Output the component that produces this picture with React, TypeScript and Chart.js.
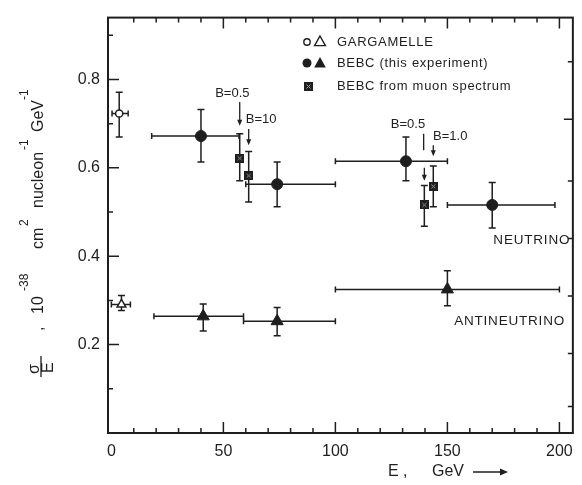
import { useEffect, useRef } from "react";
import { Chart, registerables } from "chart.js";

Chart.register(...registerables);

const INK = "#1e1e1e";
const FONT = '"Liberation Sans", Arial, sans-serif';

// Axis tick labels
const xTickValues = [0, 50, 100, 150, 200];
const yTickValues = [0.2, 0.4, 0.6, 0.8];
// Ticks of the right-hand frame edge (value units of the left axis)
const rightTickValues = [0.06, 0.18, 0.31, 0.44, 0.57, 0.71, 0.84];
const rightMajorTick = 0.71;

// Neutrino, BEBC (this experiment)
const nuE = [40, 74, 131.5, 170];
const nuSigma = [0.672, 0.563, 0.615, 0.516];
const nuELow = [18, 60, 100, 150];
const nuEHigh = [57, 100, 150, 198];
const nuSigmaLow = [0.613, 0.512, 0.571, 0.464];
const nuSigmaHigh = [0.732, 0.613, 0.67, 0.567];

// Antineutrino, BEBC (this experiment)
const anuE = [41, 74, 150];
const anuSigma = [0.264, 0.253, 0.325];
const anuELow = [19, 59, 100];
const anuEHigh = [59, 100, 200];
const anuSigmaLow = [0.231, 0.22, 0.288];
const anuSigmaHigh = [0.292, 0.284, 0.367];

// Gargamelle neutrino / antineutrino
const ggNuE = [3.5];
const ggNuSigma = [0.723];
const ggNuELow = [0.3];
const ggNuEHigh = [7.5];
const ggNuSigmaLow = [0.67];
const ggNuSigmaHigh = [0.771];

const ggAnuE = [4.5];
const ggAnuSigma = [0.291];
const ggAnuELow = [0];
const ggAnuEHigh = [8.5];
const ggAnuSigmaLow = [0.277];
const ggAnuSigmaHigh = [0.311];

// BEBC from muon spectrum (B = 0.5 and B = 1.0 at two energies)
const muE = [57.3, 61.3, 139.7, 143.7];
const muSigma = [0.622, 0.582, 0.516, 0.558];
const muSigmaLow = [0.571, 0.523, 0.468, 0.512];
const muSigmaHigh = [0.677, 0.637, 0.56, 0.604];

type Pt = { x: number; y: number; xMin?: number; xMax?: number; yMin: number; yMax: number };

function points(
  e: number[],
  s: number[],
  sLo: number[],
  sHi: number[],
  eLo?: number[],
  eHi?: number[]
): Pt[] {
  return e.map((x, i) => ({
    x,
    y: s[i],
    xMin: eLo ? eLo[i] : undefined,
    xMax: eHi ? eHi[i] : undefined,
    yMin: sLo[i],
    yMax: sHi[i],
  }));
}

function boxedCross(): HTMLCanvasElement {
  const c = document.createElement("canvas");
  c.width = 9;
  c.height = 9;
  const g = c.getContext("2d")!;
  g.fillStyle = INK;
  g.fillRect(0, 0, 9, 9);
  g.strokeStyle = "#9a9a9a";
  g.lineWidth = 1;
  g.beginPath();
  g.moveTo(2.5, 2.5);
  g.lineTo(6.5, 6.5);
  g.moveTo(6.5, 2.5);
  g.lineTo(2.5, 6.5);
  g.stroke();
  return c;
}

const errorBars = {
  id: "errorBars",
  beforeDatasetsDraw(chart: any) {
    const { ctx } = chart;
    const xs = chart.scales.x;
    const ys = chart.scales.y;
    ctx.save();
    ctx.strokeStyle = INK;
    ctx.lineWidth = 1.5;
    chart.data.datasets.forEach((ds: any) => {
      ds.data.forEach((p: Pt) => {
        const px = xs.getPixelForValue(p.x);
        const py = ys.getPixelForValue(p.y);
        const t = ys.getPixelForValue(p.yMax);
        const b = ys.getPixelForValue(p.yMin);
        ctx.beginPath();
        ctx.moveTo(px, t);
        ctx.lineTo(px, b);
        ctx.moveTo(px - 3.5, t);
        ctx.lineTo(px + 3.5, t);
        ctx.moveTo(px - 3.5, b);
        ctx.lineTo(px + 3.5, b);
        if (p.xMin !== undefined && p.xMax !== undefined) {
          const l = xs.getPixelForValue(p.xMin);
          const r = xs.getPixelForValue(p.xMax);
          ctx.moveTo(l, py);
          ctx.lineTo(r, py);
          ctx.moveTo(l, py - 3);
          ctx.lineTo(l, py + 3);
          ctx.moveTo(r, py - 3);
          ctx.lineTo(r, py + 3);
        }
        ctx.stroke();
      });
    });
    ctx.restore();
  },
};

function arrowDown(ctx: CanvasRenderingContext2D, x: number, y0: number, y1: number) {
  ctx.beginPath();
  ctx.moveTo(x, y0);
  ctx.lineTo(x, y1 - 5);
  ctx.stroke();
  ctx.beginPath();
  ctx.moveTo(x - 2.5, y1 - 6);
  ctx.lineTo(x + 2.5, y1 - 6);
  ctx.lineTo(x, y1);
  ctx.closePath();
  ctx.fill();
}

function tri(ctx: CanvasRenderingContext2D, x: number, y: number, r: number, filled: boolean) {
  ctx.beginPath();
  ctx.moveTo(x, y - r);
  ctx.lineTo(x + r * 0.9, y + r * 0.6);
  ctx.lineTo(x - r * 0.9, y + r * 0.6);
  ctx.closePath();
  if (filled) ctx.fill();
  else ctx.stroke();
}

const frameAndNotes = {
  id: "frameAndNotes",
  afterDraw(chart: any) {
    const { ctx, chartArea: a } = chart;
    const xs = chart.scales.x;
    const ys = chart.scales.y;
    const X = (v: number) => xs.getPixelForValue(v);
    const Y = (v: number) => ys.getPixelForValue(v);
    ctx.save();
    ctx.strokeStyle = INK;
    ctx.fillStyle = INK;

    // frame
    ctx.lineWidth = 2;
    ctx.strokeRect(a.left, a.top, a.right - a.left, a.bottom - a.top);

    // inward ticks
    ctx.lineWidth = 1.5;
    ctx.beginPath();
    for (let e = 10; e <= 200; e += 10) {
      const len = e % 50 === 0 ? 11 : 5;
      const px = X(e);
      ctx.moveTo(px, a.bottom);
      ctx.lineTo(px, a.bottom - len);
      ctx.moveTo(px, a.top);
      ctx.lineTo(px, a.top + len);
    }
    for (let k = 1; k <= 9; k++) {
      const v = k / 10;
      const len = k % 2 === 0 ? 11 : 5;
      const py = Y(v);
      ctx.moveTo(a.left, py);
      ctx.lineTo(a.left + len, py);
    }
    rightTickValues.forEach((v) => {
      const len = v === rightMajorTick ? 9 : 5;
      ctx.moveTo(a.right, Y(v));
      ctx.lineTo(a.right - len, Y(v));
    });
    ctx.stroke();

    // legend
    ctx.font = `13px ${FONT}`;
    (ctx as any).letterSpacing = "0.7px";
    ctx.textBaseline = "middle";
    ctx.textAlign = "left";
    ctx.lineWidth = 1.4;
    ctx.beginPath();
    ctx.arc(307, 42, 3.2, 0, Math.PI * 2);
    ctx.stroke();
    tri(ctx, 320, 42, 6, false);
    ctx.fillText("GARGAMELLE", 337, 42);
    ctx.beginPath();
    ctx.arc(307, 63, 4.5, 0, Math.PI * 2);
    ctx.fill();
    tri(ctx, 320, 63.5, 6.5, true);
    ctx.fillText("BEBC (this experiment)", 337, 63);
    ctx.drawImage(muonMark, 304, 82);
    ctx.fillText("BEBC from muon spectrum", 337, 86);

    // series names
    ctx.font = `13.5px ${FONT}`;
    (ctx as any).letterSpacing = "0.8px";
    ctx.fillText("NEUTRINO", X(170.5), Y(0.435));
    ctx.fillText("ANTINEUTRINO", X(153), Y(0.253));

    // branching-ratio annotations
    ctx.font = `13px ${FONT}`;
    (ctx as any).letterSpacing = "0px";
    ctx.lineWidth = 1.3;
    ctx.textAlign = "center";
    ctx.fillText("B=0.5", X(54), Y(0.769));
    arrowDown(ctx, X(57.3), Y(0.749), Y(0.695));
    ctx.textAlign = "left";
    ctx.fillText("B=10", X(60), Y(0.71));
    arrowDown(ctx, X(61.3), Y(0.688), Y(0.651));
    ctx.textAlign = "center";
    ctx.fillText("B=0.5", X(132.4), Y(0.699));
    ctx.beginPath();
    ctx.moveTo(X(139.4), Y(0.677));
    ctx.lineTo(X(139.4), Y(0.64));
    ctx.stroke();
    arrowDown(ctx, X(139.7), Y(0.6), Y(0.571));
    ctx.textAlign = "left";
    ctx.fillText("B=1.0", X(143.6), Y(0.67));
    arrowDown(ctx, X(143.7), Y(0.651), Y(0.626));

    // x title
    ctx.font = `16px ${FONT}`;
    ctx.fillText("E ,", 388, 472);
    ctx.fillText("GeV", 432, 472);
    ctx.lineWidth = 1.5;
    ctx.beginPath();
    ctx.moveTo(473, 472);
    ctx.lineTo(503, 472);
    ctx.stroke();
    ctx.beginPath();
    ctx.moveTo(508, 472);
    ctx.lineTo(500, 468.5);
    ctx.lineTo(500, 475.5);
    ctx.closePath();
    ctx.fill();

    // y title, rotated
    ctx.save();
    ctx.translate(43, 378);
    ctx.rotate(-Math.PI / 2);
    ctx.textBaseline = "alphabetic";
    ctx.textAlign = "left";
    ctx.font = `16px ${FONT}`;
    ctx.fillText("σ", 4, -4);
    ctx.fillText("E", 5, 10);
    ctx.lineWidth = 1.3;
    ctx.beginPath();
    ctx.moveTo(1, -2);
    ctx.lineTo(22, -2);
    ctx.stroke();
    const main: [string, number][] = [
      [",", 47],
      ["10", 64],
      ["cm", 129],
      ["nucleon", 170],
      ["GeV", 246],
    ];
    main.forEach(([s, u]) => ctx.fillText(s, u, 0));
    ctx.font = `12px ${FONT}`;
    const sup: [string, number][] = [
      ["-38", 87],
      ["2", 152],
      ["-1", 228],
      ["-1", 278],
    ];
    sup.forEach(([s, u]) => ctx.fillText(s, u, -15));
    ctx.restore();

    ctx.restore();
  },
};

const muonMark = boxedCross();

export default function App() {
  const ref = useRef<HTMLCanvasElement | null>(null);

  useEffect(() => {
    if (!ref.current) return;
    const chart = new Chart(ref.current, {
      type: "scatter",
      data: {
        datasets: [
          {
            label: "Gargamelle neutrino",
            data: points(ggNuE, ggNuSigma, ggNuSigmaLow, ggNuSigmaHigh, ggNuELow, ggNuEHigh),
            pointStyle: "circle",
            pointRadius: 3.6,
            backgroundColor: "#ffffff",
            borderColor: INK,
            borderWidth: 1.5,
          },
          {
            label: "Gargamelle antineutrino",
            data: points(ggAnuE, ggAnuSigma, ggAnuSigmaLow, ggAnuSigmaHigh, ggAnuELow, ggAnuEHigh),
            pointStyle: "triangle",
            pointRadius: 5,
            backgroundColor: "#ffffff",
            borderColor: INK,
            borderWidth: 1.5,
          },
          {
            label: "BEBC neutrino",
            data: points(nuE, nuSigma, nuSigmaLow, nuSigmaHigh, nuELow, nuEHigh),
            pointStyle: "circle",
            pointRadius: 5.5,
            backgroundColor: INK,
            borderColor: INK,
            borderWidth: 1,
          },
          {
            label: "BEBC antineutrino",
            data: points(anuE, anuSigma, anuSigmaLow, anuSigmaHigh, anuELow, anuEHigh),
            pointStyle: "triangle",
            pointRadius: 7,
            backgroundColor: INK,
            borderColor: INK,
            borderWidth: 1,
          },
          {
            label: "BEBC from muon spectrum",
            data: points(muE, muSigma, muSigmaLow, muSigmaHigh),
            pointStyle: muonMark as any,
            pointRadius: 5,
            backgroundColor: INK,
            borderColor: INK,
          },
        ],
      },
      options: {
        animation: false,
        responsive: false,
        events: [],
        layout: { padding: { top: 6, right: 8, left: 0, bottom: 0 } },
        plugins: {
          legend: { display: false },
          tooltip: { enabled: false },
        },
        scales: {
          x: {
            type: "linear",
            min: -1.5,
            max: 206,
            grid: { display: false, drawTicks: false },
            border: { display: false },
            afterBuildTicks: (s: any) => {
              s.ticks = xTickValues.map((value) => ({ value }));
            },
            afterFit: (s: any) => {
              s.height = 52;
            },
            ticks: {
              color: INK,
              font: { family: FONT, size: 16 },
              padding: 9,
              maxRotation: 0,
              autoSkip: false,
              callback: (v: any) => String(v),
            },
          },
          y: {
            type: "linear",
            min: 0,
            max: 0.94,
            grid: { display: false, drawTicks: false },
            border: { display: false },
            afterBuildTicks: (s: any) => {
              s.ticks = yTickValues.map((value) => ({ value }));
            },
            afterFit: (s: any) => {
              s.width = 108;
            },
            ticks: {
              color: INK,
              font: { family: FONT, size: 16 },
              padding: 8,
              autoSkip: false,
              callback: (v: any) => Number(v).toFixed(1),
            },
          },
        },
      },
      plugins: [errorBars, frameAndNotes],
    });
    return () => chart.destroy();
  }, []);

  return (
    <div style={{ position: "absolute", left: 0, top: 0, width: 582, height: 485, background: "#ffffff" }}>
      <canvas ref={ref} width={582} height={485} />
    </div>
  );
}
